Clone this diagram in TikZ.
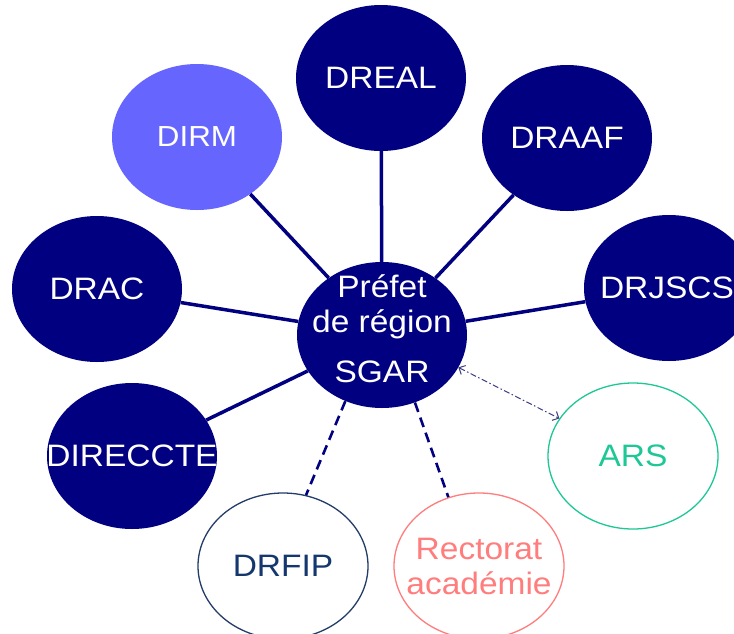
\documentclass[tikz,border=0pt]{standalone}
\usepackage{fontspec}
\setmainfont{Liberation Sans}[FakeStretch=1.08]
\usetikzlibrary{shapes.geometric,arrows.meta}
\definecolor{navy}{RGB}{0,0,128}
\definecolor{dirmblue}{RGB}{102,102,255}
\definecolor{fipline}{RGB}{35,60,105}
\definecolor{fiptext}{RGB}{20,55,110}
\definecolor{pinkc}{RGB}{255,125,125}
\definecolor{arsgreen}{RGB}{30,200,150}
\definecolor{arrowc}{RGB}{60,60,130}
\begin{document}
\begin{tikzpicture}[x=1pt,y=-1pt,
  bub/.style={ellipse, minimum width=170pt, minimum height=146pt, inner sep=0pt},
  full/.style={bub, fill=navy},
  ring/.style={bub, fill=white, line width=1.3pt},
  lab/.style={font=\fontsize{31}{35}\selectfont, align=center, inner sep=0pt},
  link/.style={navy, line width=3.5pt},
  dlink/.style={navy, line width=2.6pt, dash pattern=on 10pt off 6pt},
  dashdot/.style={arrowc, line width=1pt, dash pattern=on 6pt off 2.5pt on 1.5pt off 2.5pt}
]
\useasboundingbox (0,0) rectangle (734,633);
\clip (0,0) rectangle (734,633);
\fill[white] (0,0) rectangle (734,633);

\node[full, label={[lab,text=white]center:DREAL}] (dreal) at (381,78) {};
\node[bub, fill=dirmblue, label={[lab,text=white,font=\fontsize{29}{35}\selectfont]center:DIRM}] (dirm) at (197,137) {};
\node[full, label={[lab,text=white]center:DRAAF}] (draaf) at (567,138) {};
\node[full, label={[lab,text=white]center:DRAC}] (drac) at (97,289) {};
\node[full, label={[lab,text=white,xshift=-2pt]center:DRJSCS}] (drjscs) at (669,288) {};
\node[full] (c) at (382,335) {};
\node[lab, text=white, yshift=6pt] (ct) at (c) {Préfet\\de région\\[15pt]SGAR};
\node[full, label={[lab,text=white]center:DIRECCTE}] (direccte) at (132,456) {};
\node[ring, draw=fipline, label={[lab,text=fiptext]center:DRFIP}] (drfip) at (283,566) {};
\node[ring, draw=pinkc, label={[lab,text=pinkc]center:Rectorat\\académie}] (rect) at (479,566) {};
\node[ring, draw=arsgreen, label={[lab,text=arsgreen]center:ARS}] (ars) at (633,456) {};

\draw[link] (dreal) -- (c);
\draw[link] (dirm) -- (c);
\draw[link] (draaf) -- (c);
\draw[link] (drac) -- (c);
\draw[link] (drjscs) -- (c);
\draw[link] (direccte) -- (c);
\draw[dlink] (c.-119) -- (drfip.72);
\draw[dlink] (c.-64) -- (rect.114);
\draw[dashdot, {Straight Barb[length=5pt,width=10pt]}-{Straight Barb[length=5pt,width=10pt]}] (c.-23) -- (ars.153);
\end{tikzpicture}
\end{document}
